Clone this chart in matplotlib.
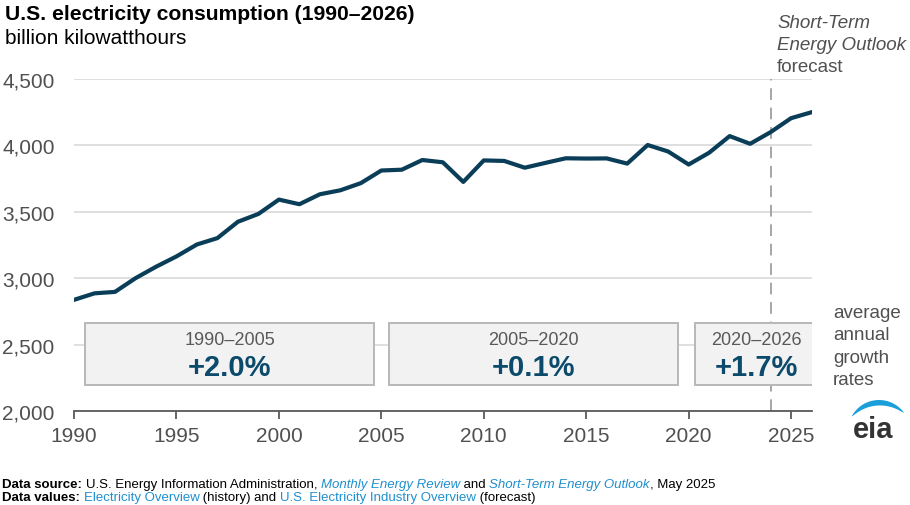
import matplotlib
matplotlib.use("Agg")
import matplotlib.pyplot as plt
from matplotlib import font_manager
from matplotlib.patches import Rectangle, Polygon
import numpy as np

# annual U.S. electricity consumption, billion kWh (2025-2026 forecast)
years = list(range(1990, 2027))
consumption = [2837, 2886, 2897, 3000, 3086, 3164, 3254, 3302, 3425, 3484,
               3592, 3557, 3632, 3662, 3716, 3811, 3817, 3890, 3873, 3725,
               3887, 3883, 3832, 3868, 3903, 3901, 3902, 3863, 4003, 3954,
               3856, 3945, 4070, 4012, 4100, 4205, 4250]
forecast_start = 2024

# average annual growth rates
periods = ["1990–2005", "2005–2020", "2020–2026"]
rates = ["+2.0%", "+0.1%", "+1.7%"]
box_spans = [(1990.55, 2004.65), (2005.35, 2019.5), (2020.3, 2026.3)]

yticks = [2000, 2500, 3000, 3500, 4000, 4500]
xticks = [1990, 1995, 2000, 2005, 2010, 2015, 2020, 2025]

FONT = "Liberation Sans"
names = {f.name for f in font_manager.fontManager.ttflist}
NARROW = "Liberation Sans Narrow" if "Liberation Sans Narrow" in names else FONT
plt.rcParams["font.family"] = [FONT, "DejaVu Sans"]

W, H = 910, 506
fig = plt.figure(figsize=(W / 100, H / 100), dpi=100)


def fx(px):
    return px / W


def fy(py):
    return 1 - py / H


ax = fig.add_axes([fx(74), fy(412), fx(811.6 - 74), (412 - 80) / H])
ax.plot(years, consumption, color="#0a3d57", lw=3.0, zorder=4)
ax.set_xlim(1990, 2026)
ax.set_ylim(2000, 4500)

ax.set_yticks(yticks)
ax.set_yticklabels([f"{v:,}" for v in yticks])
ax.set_xticks(xticks)
ax.yaxis.grid(True, color="#d9d9d9", lw=1.2)
ax.set_axisbelow(True)
for s in ["top", "right", "left"]:
    ax.spines[s].set_visible(False)
ax.spines["bottom"].set_color("#595959")
ax.spines["bottom"].set_linewidth(1.3)
ax.spines["bottom"].set_zorder(5)
ax.tick_params(axis="x", length=6, width=1.3, color="#595959", labelsize=15,
               labelcolor="#505050", pad=5)
ax.tick_params(axis="y", length=0, labelsize=15, labelcolor="#505050", pad=14)

# forecast divider
ax.axvline(forecast_start, color="#a6a6a6", lw=1.4, dashes=(6, 4), zorder=2)

# growth rate boxes
for (x0, x1), per, rate in zip(box_spans, periods, rates):
    ax.add_patch(Rectangle((x0, 2196), x1 - x0, 2662 - 2196, facecolor="#f2f2f2",
                           edgecolor="#b8b8b8", lw=1.4, zorder=3))
    xc = (x0 + x1) / 2
    ax.text(xc, 2540, per, ha="center", va="center", fontsize=13, color="#595959", zorder=4)
    ax.text(xc, 2328, rate, ha="center", va="center", fontsize=21, fontweight="bold",
            color="#0b4a6b", zorder=4)

# titles and annotations
fig.text(fx(5), fy(20), "U.S. electricity consumption (1990–2026)", fontsize=15.2,
         fontweight="bold", color="black", va="baseline")
fig.text(fx(5), fy(44), "billion kilowatthours", fontsize=15, color="black", va="baseline")

fig.text(fx(777), fy(23), "Short-Term", fontsize=13.5, style="italic", color="#505050", va="center")
fig.text(fx(777), fy(45), "Energy Outlook", fontsize=13.5, style="italic", color="#505050", va="center")
fig.text(fx(777), fy(67), "forecast", fontsize=13.5, color="#505050", va="center")

fig.text(fx(833), fy(347), "average\nannual\ngrowth\nrates", fontsize=13.5,
         color="#505050", va="center", ha="left", linespacing=1.39)

# eia logo
fig.text(fx(873), fy(430), "eia", fontsize=21, fontweight="bold", color="#333333",
         ha="center", va="center")
cx, cy, r = 879, 432, 31
ang = np.linspace(np.radians(152), np.radians(36), 50)
t = np.linspace(0, 1, 50)
thick = 5.5 * np.sin(np.pi * t) ** 0.7
outer = [(fx(cx + r * np.cos(a)), fy(cy - r * np.sin(a))) for a in ang]
inner = [(fx(cx + (r - d) * np.cos(a)), fy(cy - (r - d) * np.sin(a))) for a, d in zip(ang, thick)]
fig.add_artist(Polygon(outer + inner[::-1], closed=True, transform=fig.transFigure,
                       facecolor="#1a9fdb", edgecolor="none"))

# footer with mixed styles
fig.canvas.draw()
renderer = fig.canvas.get_renderer()
BLUE = "#1f8fce"


def draw_runs(x, y, runs, size=9.5):
    for text, weight, style, color in runs:
        tt = fig.text(x, y, text, fontsize=size, fontweight=weight, style=style,
                      color=color, family=NARROW, va="baseline")
        x += tt.get_window_extent(renderer=renderer).width / W


draw_runs(fx(2), fy(488), [
    ("Data source: ", "bold", "normal", "black"),
    ("U.S. Energy Information Administration, ", "normal", "normal", "black"),
    ("Monthly Energy Review", "normal", "italic", BLUE),
    (" and ", "normal", "normal", "black"),
    ("Short-Term Energy Outlook", "normal", "italic", BLUE),
    (", May 2025", "normal", "normal", "black"),
])
draw_runs(fx(2), fy(501), [
    ("Data values: ", "bold", "normal", "black"),
    ("Electricity Overview", "normal", "normal", BLUE),
    (" (history) and ", "normal", "normal", "black"),
    ("U.S. Electricity Industry Overview", "normal", "normal", BLUE),
    (" (forecast)", "normal", "normal", "black"),
])

fig.savefig("out.png", dpi=100)
